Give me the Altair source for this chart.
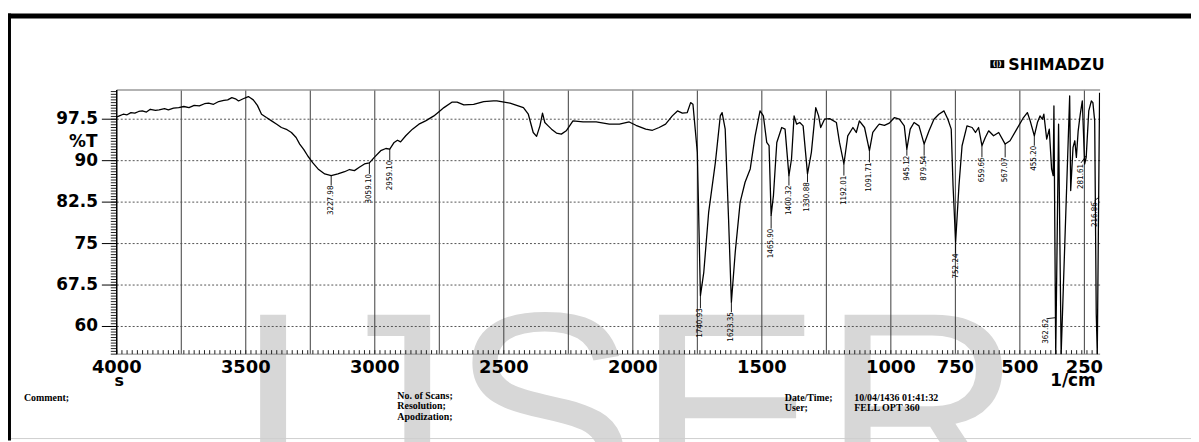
import altair as alt
import pandas as pd

# ---------------- data ----------------
wavenumber = [
    4000, 3990, 3975, 3960, 3945, 3930, 3915, 3901, 3885, 3870,
    3850, 3836, 3815, 3800, 3780, 3760, 3740, 3720, 3700, 3680,
    3660, 3644, 3625, 3605, 3585, 3570, 3554, 3540, 3528, 3510,
    3490, 3480, 3471, 3455, 3439, 3420, 3400, 3380, 3362, 3340,
    3323, 3305, 3291, 3275, 3259, 3240, 3220, 3194, 3169, 3143,
    3117, 3098, 3079, 3060, 3040, 3021, 3002, 2977, 2957, 2942,
    2925, 2912, 2900, 2880, 2854, 2829, 2803, 2771, 2750, 2732,
    2700, 2681, 2655, 2617, 2578, 2540, 2527, 2476, 2424, 2405,
    2386, 2373, 2360, 2350, 2341, 2328, 2315, 2296, 2277, 2258,
    2232, 2193, 2142, 2091, 2052, 2014, 1988, 1950, 1924, 1898,
    1873, 1847, 1827, 1808, 1789, 1776, 1767, 1750, 1738, 1725,
    1706, 1680, 1661, 1654, 1642, 1629, 1618, 1603, 1584, 1565,
    1545, 1526, 1507, 1494, 1481, 1472, 1464, 1455, 1442, 1423,
    1410, 1395, 1385, 1375, 1365, 1353, 1340, 1323, 1308, 1291,
    1280, 1272, 1257, 1237, 1211, 1199, 1182, 1167, 1147, 1134,
    1122, 1102, 1083, 1070, 1051, 1045, 1025, 1006, 986, 967,
    948, 938, 925, 910, 891, 871, 852, 833, 814, 794,
    779, 766, 759, 749, 736, 724, 705, 685, 672, 660,
    647, 634, 621, 602, 582, 557, 538, 512, 486, 471,
    460, 444, 432, 422, 413, 407, 396, 386, 377, 371,
    368, 361, 350, 340, 307, 303, 294, 287, 281, 274,
    266, 258, 249, 243, 233, 223, 217, 210, 204, 200, 191,
]
transmittance = [
    97.9, 98.1, 98.4, 98.3, 98.7, 98.6, 98.9, 99.0, 98.8, 99.3,
    99.1, 99.2, 99.4, 99.2, 99.5, 99.6, 99.8, 99.6, 100.0, 99.9,
    100.3, 100.4, 100.2, 100.7, 100.9, 101.0, 101.4, 101.2, 100.8, 101.2,
    101.6, 101.3, 101.0, 100.0, 98.4, 97.8, 97.2, 96.6, 96.0, 95.6,
    95.1, 94.2, 93.0, 92.0, 90.8, 89.6, 88.5, 87.6, 87.3, 87.6,
    88.0, 88.4, 88.2, 88.8, 89.4, 89.6, 90.6, 91.8, 92.2, 92.1,
    93.3, 93.7, 93.4, 94.5, 95.7, 96.6, 97.2, 98.1, 98.9, 99.6,
    100.6, 100.6, 100.1, 100.2, 100.7, 100.8, 100.8, 100.4, 99.6, 98.4,
    95.1, 94.4, 96.3, 98.6, 96.9, 96.3, 95.7, 95.0, 94.8, 95.4,
    97.2, 97.0, 97.0, 96.6, 96.6, 97.0, 96.4, 95.7, 95.5, 96.0,
    96.6, 98.1, 99.0, 98.6, 98.7, 100.5, 100.2, 91.5, 65.6, 69.8,
    80.7, 89.7, 98.1, 98.7, 95.7, 79.5, 64.4, 73.5, 82.5, 86.1,
    88.5, 94.5, 99.0, 98.1, 93.3, 92.7, 80.1, 83.7, 93.3, 96.0,
    95.7, 87.3, 90.3, 98.1, 96.6, 96.9, 96.3, 87.6, 91.5, 99.6,
    98.1, 96.0, 97.5, 97.6, 96.9, 93.3, 89.4, 94.5, 96.0, 95.1,
    97.2, 96.0, 91.8, 95.1, 96.3, 96.6, 96.4, 96.8, 97.8, 97.5,
    96.3, 92.1, 95.7, 96.9, 96.3, 93.0, 95.4, 97.5, 98.4, 99.0,
    97.5, 95.7, 85.5, 75.3, 85.5, 92.7, 96.3, 96.0, 95.1, 96.0,
    92.7, 94.2, 95.4, 94.5, 95.1, 93.0, 93.6, 95.7, 97.8, 98.7,
    97.2, 94.5, 96.9, 98.1, 97.5, 98.4, 93.9, 95.7, 88.5, 87.3,
    99.9, 55.0, 96.6, 55.0, 101.7, 84.6, 92.4, 93.6, 90.6, 95.4,
    98.4, 100.8, 89.4, 90.6, 99.0, 100.8, 100.5, 97.2, 62.3, 55.0, 102.3,
]
assert len(wavenumber) == len(transmittance)

x_label_values = [4000, 3500, 3000, 2500, 2000, 1500, 1000, 750, 500, 250]
x_label_texts = ["4000", "3500", "3000", "2500", "2000", "1500", "1000", "750", "500", "250"]
y_label_values = [97.5, 90, 82.5, 75, 67.5, 60]
y_label_texts = ["97.5", "90", "82.5", "75", "67.5", "60"]
x_grid_values = [3750, 3500, 3250, 3000, 2750, 2500, 2250, 2000, 1750,
                 1500, 1250, 1000, 750, 500, 250]
y_grid_values = [97.5, 90, 82.5, 75, 67.5, 60]

# peak annotations: printed text, text anchor, leader start/end
peak_labels = ["3227.98", "3059.10", "2959.10", "1740.93", "1623.35", "1465.90",
               "1400.32", "1330.88", "1192.01", "1091.71", "945.12", "879.54",
               "752.24", "659.66", "567.07", "455.20", "362.62", "281.61", "216.86"]
label_wn = [3169, 3021, 2942, 1738, 1618, 1464, 1395, 1323, 1182, 1083, 938, 871,
            749, 647, 557, 444, 397, 263, 210]
label_t = [85.5, 87.6, 90.0, 63.3, 62.6, 77.7, 85.5, 86.1, 87.3, 89.7, 90.9, 90.9,
           73.2, 90.6, 90.6, 92.7, 61.4, 89.4, 82.5]
leader_wn1 = [3169, 3021, 2942, 1738, 1618, 1464, 1395, 1323, 1182, 1083, 938, 871,
              749, 647, 557, 444, 397, 263, 210]
leader_t1 = [87.3, 89.6, 92.1, 65.6, 64.4, 80.1, 87.3, 87.6, 89.4, 91.8, 92.1, 93.0,
             75.3, 92.7, 93.0, 94.5, 61.4, 89.6, 82.8]
leader_wn2 = [3169, 3021, 2942, 1738, 1618, 1464, 1395, 1323, 1182, 1083, 938, 871,
              749, 647, 557, 444, 361, 243, 193]
leader_t2 = [85.5, 87.6, 90.0, 63.3, 62.6, 77.7, 85.5, 86.1, 87.3, 89.7, 90.9, 90.9,
             73.2, 90.6, 90.6, 92.7, 61.6, 90.9, 83.4]

# page texts (page pixel coordinates)
footer_texts = ["Comment;", "No. of Scans;", "Resolution;", "Apodization;",
                "Date/Time;", "10/04/1436 01:41:32", "User;", "FELL OPT 360"]
footer_x = [24, 400, 400, 400, 790, 860, 790, 860]
footer_y = [402, 400, 410.5, 421, 402, 402, 412.5, 412.5]

# ---------------- layout ----------------
W, H = 990, 266
PX0, PY0 = 117.5, 89          # page position of plot origin
X_DOMAIN = [4000, 189]
Y_DOMAIN = [55, 102.8]
xs = alt.Scale(domain=X_DOMAIN, nice=False, zero=False)
ys = alt.Scale(domain=Y_DOMAIN, nice=False, zero=False)
AXIS_FONT = "DejaVu Sans"


def rx(px):
    return px - PX0


def ry(py):
    return py - PY0


spec_df = pd.DataFrame({"wn": wavenumber, "T": transmittance,
                        "idx": list(range(len(wavenumber)))})
peak_df = pd.DataFrame({"label": peak_labels, "tx": label_wn, "ty": label_t,
                        "x1": leader_wn1, "y1": leader_t1, "x2": leader_wn2, "y2": leader_t2})
xlab_df = pd.DataFrame({"v": x_label_values, "t": x_label_texts})
ylab_df = pd.DataFrame({"v": y_label_values, "t": y_label_texts})
xgrid_df = pd.DataFrame({"v": x_grid_values})
ygrid_df = pd.DataFrame({"v": y_grid_values})
xminor_df = pd.DataFrame({"v": list(range(200, 4001, 20))})
yminor_df = pd.DataFrame({"v": [55 + 0.5 * i for i in range(96)]})

one = pd.DataFrame({"a": [0]})


def text_layer(txt, px, py, font, size, align="left", weight="bold", color="black",
               baseline="alphabetic"):
    return alt.Chart(pd.DataFrame({"t": [txt]})).mark_text(
        font=font, fontSize=size, fontWeight=weight, align=align, baseline=baseline,
        color=color
    ).encode(text="t:N", x=alt.value(rx(px)), y=alt.value(ry(py)))


watermark = text_layer("IJSER", 236, 508, "Liberation Sans", 280, weight="normal",
                       color="#d7d7d7")

top_border = alt.Chart(one).mark_rect(color="black").encode(
    x=alt.value(rx(8)), x2=alt.value(rx(1199)), y=alt.value(ry(12)), y2=alt.value(ry(17)))
left_border = alt.Chart(one).mark_rect(color="black").encode(
    x=alt.value(rx(8)), x2=alt.value(rx(11)), y=alt.value(ry(12)), y2=alt.value(ry(442)))
bottom_line = alt.Chart(one).mark_rule(color="#cfcfcf", strokeWidth=1).encode(
    x=alt.value(rx(11)), x2=alt.value(rx(1199)), y=alt.value(ry(440)))

vgrid = alt.Chart(xgrid_df).mark_rule(color="#3c3c3c", strokeWidth=1).encode(
    x=alt.X("v:Q", scale=xs, axis=None))
hgrid = alt.Chart(ygrid_df).mark_rule(color="#555555", strokeWidth=1, strokeDash=[2, 2]).encode(
    y=alt.Y("v:Q", scale=ys, axis=None))
frame_top = alt.Chart(one).mark_rule(color="#9a9a9a", strokeWidth=1.5).encode(
    x=alt.value(0), x2=alt.value(W), y=alt.value(0))
frame_bottom = alt.Chart(one).mark_rule(color="#888888", strokeWidth=1).encode(
    x=alt.value(0), x2=alt.value(W), y=alt.value(H))
y_domain_line = alt.Chart(one).mark_rule(color="black", strokeWidth=1.5).encode(
    x=alt.value(0), y=alt.value(0), y2=alt.value(H))

xminor = alt.Chart(xminor_df).mark_rule(color="#222222", strokeWidth=1).encode(
    x=alt.X("v:Q", scale=xs, axis=None), y=alt.value(H - 4), y2=alt.value(H))
yminor = alt.Chart(yminor_df).mark_rule(color="#222222", strokeWidth=1).encode(
    y=alt.Y("v:Q", scale=ys, axis=None), x=alt.value(-6), x2=alt.value(0))
ymajor = alt.Chart(ylab_df).mark_rule(color="black", strokeWidth=1).encode(
    y=alt.Y("v:Q", scale=ys, axis=None), x=alt.value(-15), x2=alt.value(0))

y_labels = alt.Chart(ylab_df).mark_text(
    font=AXIS_FONT, fontWeight="bold", fontSize=17, align="right", baseline="middle",
    color="black"
).encode(y=alt.Y("v:Q", scale=ys, axis=None), x=alt.value(-19), text="t:N")
x_labels = alt.Chart(xlab_df).mark_text(
    font=AXIS_FONT, fontWeight="bold", fontSize=18, align="center", baseline="alphabetic",
    color="black"
).encode(x=alt.X("v:Q", scale=xs, axis=None), y=alt.value(ry(373.5)), text="t:N")

spectrum = alt.Chart(spec_df).mark_line(
    color="black", strokeWidth=1.3, clip=True, strokeJoin="round"
).encode(
    x=alt.X("wn:Q", scale=xs, axis=None),
    y=alt.Y("T:Q", scale=ys, axis=None),
    order="idx:Q",
)

leaders = alt.Chart(peak_df).mark_rule(color="black", strokeWidth=0.9).encode(
    x=alt.X("x1:Q", scale=xs, axis=None), x2="x2:Q",
    y=alt.Y("y1:Q", scale=ys, axis=None), y2="y2:Q")
peak_text = alt.Chart(peak_df).mark_text(
    angle=270, align="right", baseline="middle",
    font="DejaVu Sans Condensed, Liberation Sans, sans-serif",
    fontSize=8, color="black"
).encode(x=alt.X("tx:Q", scale=xs, axis=None), y=alt.Y("ty:Q", scale=ys, axis=None),
         text="label:N")

pct_t = text_layer("%T", 98, 146, AXIS_FONT, 17, align="right")
unit = text_layer("1/cm", 1103, 387.5, AXIS_FONT, 17, align="right")
s_mark = text_layer("s", 120, 387.5, AXIS_FONT, 16, align="center")

logo_box = alt.Chart(one).mark_rect(color="black").encode(
    x=alt.value(rx(997)), x2=alt.value(rx(1011)), y=alt.value(ry(59)), y2=alt.value(ry(67)))
logo_inner = text_layer("(|)", 1004, 63, AXIS_FONT, 7, align="center", color="white",
                        baseline="middle")
logo_text = text_layer("SHIMADZU", 1015, 68.5, AXIS_FONT, 16)

footer_layers = [text_layer(t, x, y, "Liberation Serif", 10)
                 for t, x, y in zip(footer_texts, footer_x, footer_y)]

chart = alt.layer(
    watermark, top_border, left_border, bottom_line,
    vgrid, hgrid, frame_top, frame_bottom, xminor, yminor, ymajor, y_domain_line,
    y_labels, x_labels,
    spectrum, leaders, peak_text,
    pct_t, unit, s_mark, logo_box, logo_inner, logo_text, *footer_layers,
).properties(
    width=W, height=H,
    padding={"left": 109.5, "top": 81, "right": 91.5, "bottom": 87},
    autosize=alt.AutoSizeParams(type="none"),
    background="white",
).configure_view(strokeWidth=0)

chart.save("out.html", embed_options={"renderer": "svg", "actions": False})
